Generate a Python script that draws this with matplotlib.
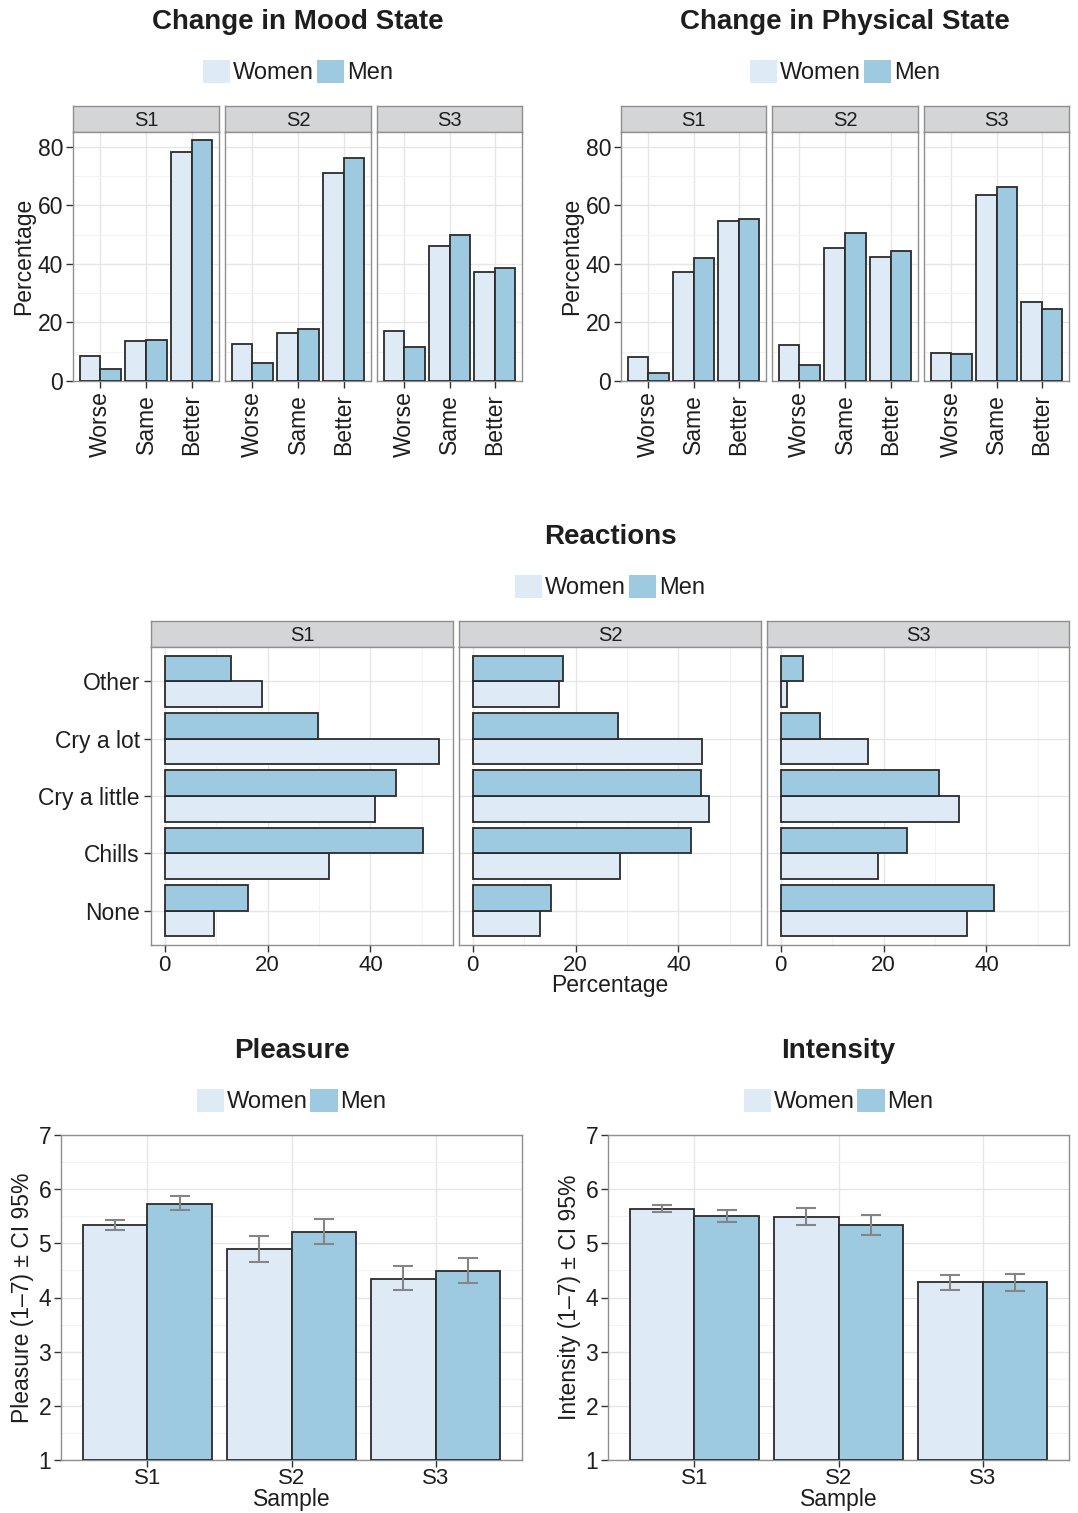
import matplotlib
matplotlib.use("Agg")
import matplotlib.pyplot as plt
import numpy as np
from matplotlib.patches import Patch
from matplotlib.ticker import MultipleLocator

plt.rcParams['font.family'] = ['Liberation Sans', 'DejaVu Sans']

W, H = 1078, 1513

samples = ['S1', 'S2', 'S3']
change_cats = ['Worse', 'Same', 'Better']
reaction_cats = ['None', 'Chills', 'Cry a little', 'Cry a lot', 'Other']

# change in mood state (%), per sample: Worse, Same, Better
mood_women = [[8.4, 13.7, 78.3], [12.6, 16.5, 71.0], [16.9, 46.2, 37.3]]
mood_men = [[4.0, 14.1, 82.3], [6.2, 17.9, 76.1], [11.7, 49.8, 38.6]]

# change in physical state (%)
phys_women = [[8.3, 37.2, 54.6], [12.3, 45.5, 42.3], [9.7, 63.5, 27.0]]
phys_men = [[2.7, 42.1, 55.3], [5.5, 50.4, 44.3], [9.2, 66.3, 24.6]]

# reactions (%), per sample: None, Chills, Cry a little, Cry a lot, Other
react_women = [[9.5, 32.0, 40.9, 53.4, 19.0],
               [13.0, 28.7, 46.0, 44.6, 16.8],
               [36.3, 19.0, 34.6, 16.9, 1.2]]
react_men = [[16.1, 50.3, 45.0, 29.8, 12.8],
             [15.2, 42.5, 44.4, 28.3, 17.6],
             [41.4, 24.6, 30.8, 7.7, 4.3]]

# pleasure / intensity means with 95% CI bounds
pleasure_women = [5.33, 4.89, 4.35]
pleasure_women_lo = [5.25, 4.65, 4.13]
pleasure_women_hi = [5.43, 5.14, 4.58]
pleasure_men = [5.73, 5.21, 4.49]
pleasure_men_lo = [5.61, 4.98, 4.26]
pleasure_men_hi = [5.87, 5.45, 4.73]

intensity_women = [5.64, 5.49, 4.28]
intensity_women_lo = [5.57, 5.33, 4.14]
intensity_women_hi = [5.70, 5.65, 4.42]
intensity_men = [5.51, 5.34, 4.28]
intensity_men_lo = [5.40, 5.15, 4.12]
intensity_men_hi = [5.62, 5.53, 4.44]

C_WOMEN = '#deebf7'
C_MEN = '#9ecae1'
EDGE = '#2b2b2b'
BORDER = '#8f8f8f'
STRIP = '#d4d5d7'
TXT = '#1e1e1e'

fig = plt.figure(figsize=(W / 100, H / 100), dpi=100)


def px_axes(x0, y0, x1, y1):
    return fig.add_axes([x0 / W, 1 - y1 / H, (x1 - x0) / W, (y1 - y0) / H])


def style(ax):
    ax.set_facecolor('white')
    for s in ax.spines.values():
        s.set_color(BORDER)
        s.set_linewidth(1.0)
    ax.grid(True, which='major', color='#e6e6e6', lw=1.0, zorder=0)
    ax.grid(True, which='minor', color='#f3f3f3', lw=0.8, zorder=0)
    ax.set_axisbelow(True)
    ax.tick_params(which='major', length=5, width=1, color='#333333',
                   labelsize=16.5, labelcolor=TXT, pad=2)
    ax.tick_params(which='minor', length=0)


def strip(x0, x1, y0, y1, label):
    sa = px_axes(x0, y0, x1, y1)
    sa.set_facecolor(STRIP)
    for s in sa.spines.values():
        s.set_color(BORDER)
        s.set_linewidth(1.0)
    sa.set_xticks([])
    sa.set_yticks([])
    sa.text(0.5, 0.45, label, ha='center', va='center', fontsize=14.5,
            color=TXT, transform=sa.transAxes)


def title_legend(x, y_title, y_leg, text):
    fig.text(x / W, 1 - y_title / H, text, ha='center', va='center',
             fontsize=20, fontweight='bold', color=TXT)
    handles = [Patch(facecolor=C_WOMEN, edgecolor='none', label='Women'),
               Patch(facecolor=C_MEN, edgecolor='none', label='Men')]
    fig.legend(handles=handles, loc='center', ncol=2,
               bbox_to_anchor=(x / W, 1 - y_leg / H), frameon=False,
               fontsize=17, handlelength=1.15, handleheight=1.15,
               handletextpad=0.12, columnspacing=0.12, borderpad=0,
               labelcolor=TXT)


def change_block(xs, women, men, title, cx):
    title_legend(cx, 22, 72, title)
    pos = np.arange(1, 4)
    for i, (x0, x1) in enumerate(xs):
        strip(x0, x1, 106, 132, samples[i])
        ax = px_axes(x0, 132, x1, 381)
        style(ax)
        ax.bar(pos - 0.225, women[i], 0.45, color=C_WOMEN, edgecolor=EDGE,
               lw=1.3, zorder=3)
        ax.bar(pos + 0.225, men[i], 0.45, color=C_MEN, edgecolor=EDGE,
               lw=1.3, zorder=3)
        ax.set_xlim(0.4, 3.6)
        ax.set_ylim(0, 85)
        ax.set_xticks(pos)
        ax.set_xticklabels(change_cats, rotation=90, va='center', ha='center')
        ax.tick_params(axis='x', pad=26)
        ax.yaxis.set_major_locator(MultipleLocator(20))
        ax.yaxis.set_minor_locator(MultipleLocator(10))
        if i == 0:
            ax.set_ylabel('Percentage', fontsize=16.5, color=TXT)
            ax.yaxis.set_label_coords(-38 / (x1 - x0), 0.5)
        else:
            ax.tick_params(axis='y', length=0, labelleft=False)


change_block([(73, 219), (225, 371), (377, 522)], mood_women, mood_men,
             'Change in Mood State', 298)
change_block([(621, 766), (772, 918), (924, 1069)], phys_women, phys_men,
             'Change in Physical State', 845)

# Reactions
title_legend(610, 537, 587, 'Reactions')
rpos = np.arange(1, 6)
for i, (x0, x1) in enumerate([(151, 453), (459, 761), (767, 1069)]):
    strip(x0, x1, 621, 647, samples[i])
    ax = px_axes(x0, 647, x1, 945)
    style(ax)
    ax.barh(rpos - 0.225, react_women[i], 0.45, color=C_WOMEN,
            edgecolor=EDGE, lw=1.3, zorder=3)
    ax.barh(rpos + 0.225, react_men[i], 0.45, color=C_MEN,
            edgecolor=EDGE, lw=1.3, zorder=3)
    ax.set_ylim(0.4, 5.6)
    ax.set_xlim(-2.67, 56.07)
    ax.set_yticks(rpos)
    ax.xaxis.set_major_locator(MultipleLocator(20))
    ax.xaxis.set_minor_locator(MultipleLocator(10))
    ax.tick_params(axis='x', pad=2, labelsize=16)
    if i == 0:
        ax.set_yticklabels(reaction_cats)
        ax.tick_params(axis='y', pad=3)
    else:
        ax.tick_params(axis='y', length=0, labelleft=False)
    if i == 1:
        ax.set_xlabel('Percentage', fontsize=16.5, color=TXT, labelpad=-1)


def mean_block(x0, x1, women, wlo, whi, men, mlo, mhi, title, ylabel):
    cx = (x0 + x1) / 2
    title_legend(cx, 1051, 1101, title)
    ax = px_axes(x0, 1135, x1, 1460)
    style(ax)
    pos = np.arange(1, 4)
    ax.bar(pos - 0.225, np.array(women) - 1, 0.45, bottom=1, color=C_WOMEN,
           edgecolor=EDGE, lw=1.3, zorder=3)
    ax.bar(pos + 0.225, np.array(men) - 1, 0.45, bottom=1, color=C_MEN,
           edgecolor=EDGE, lw=1.3, zorder=3)
    for off, m, lo, hi in [(-0.225, women, wlo, whi), (0.225, men, mlo, mhi)]:
        m = np.array(m)
        err = [m - np.array(lo), np.array(hi) - m]
        ax.errorbar(pos + off, m, yerr=err, fmt='none', ecolor='#858585',
                    elinewidth=1.5, capsize=7.5, capthick=1.5, zorder=4)
    ax.set_xlim(0.4, 3.6)
    ax.set_ylim(1, 7)
    ax.set_xticks(pos)
    ax.set_xticklabels(samples)
    ax.yaxis.set_major_locator(MultipleLocator(1))
    ax.yaxis.set_minor_locator(MultipleLocator(0.5))
    ax.tick_params(axis='x', pad=1, labelsize=16)
    ax.set_xlabel('Sample', fontsize=16.5, color=TXT, labelpad=-1)
    ax.set_ylabel(ylabel, fontsize=16.5, color=TXT)
    ax.yaxis.set_label_coords(-27 / (x1 - x0), 0.5)


mean_block(61, 522, pleasure_women, pleasure_women_lo, pleasure_women_hi,
           pleasure_men, pleasure_men_lo, pleasure_men_hi,
           'Pleasure', 'Pleasure (1\u20137) \u00b1 CI 95%')
mean_block(608, 1069, intensity_women, intensity_women_lo, intensity_women_hi,
           intensity_men, intensity_men_lo, intensity_men_hi,
           'Intensity', 'Intensity (1\u20137) \u00b1 CI 95%')

fig.savefig('out.png', dpi=100)
